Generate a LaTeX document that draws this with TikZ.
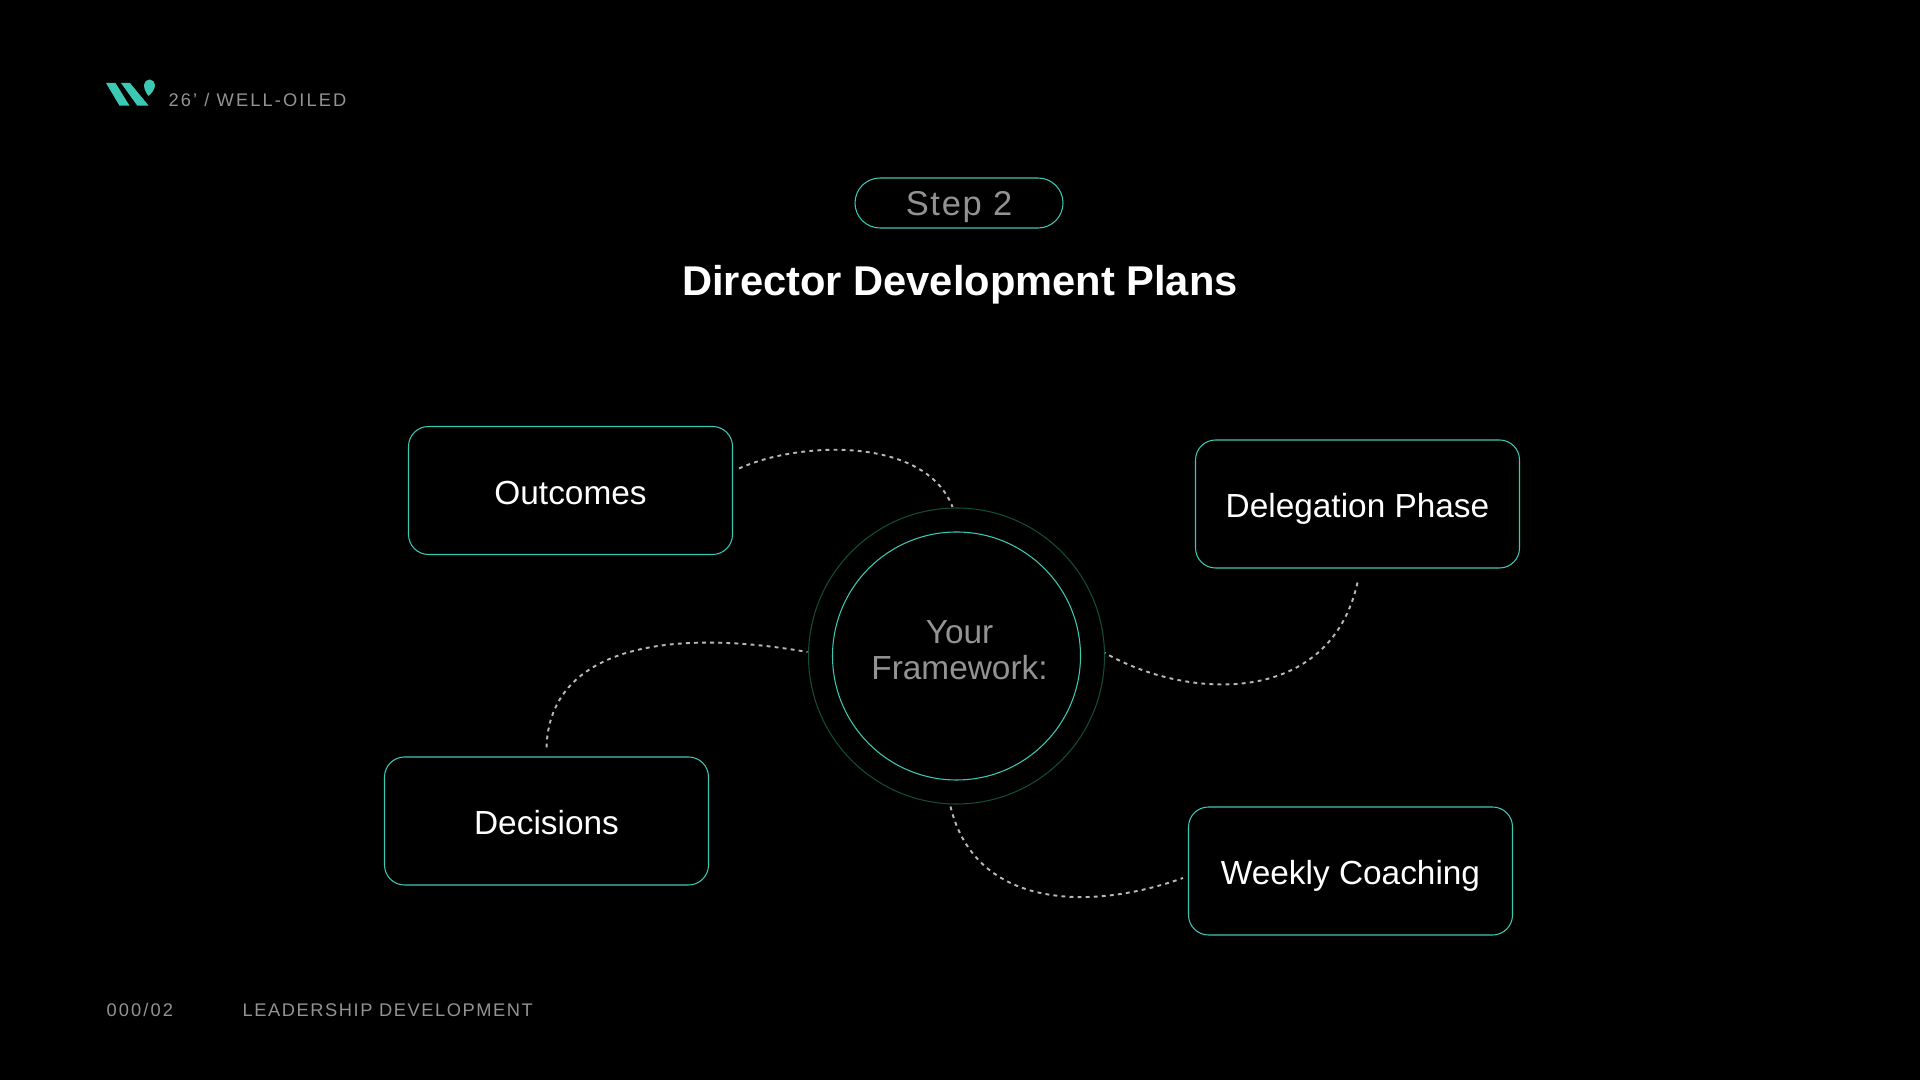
\documentclass[tikz,border=0pt]{standalone}
\usepackage{fontspec}
\setmainfont{Liberation Sans}
\newfontfamily\fejbetu[LetterSpace=11.5]{Liberation Sans}
\newfontfamily\labbetu[LetterSpace=8.5]{Liberation Sans}
\newfontfamily\lepesbetu[LetterSpace=5]{Liberation Sans}
\usetikzlibrary{positioning,calc}
\definecolor{menta}{HTML}{3CC9B4}
\definecolor{mentasotet}{HTML}{124B40}
\definecolor{szurke}{HTML}{939393}
\tikzset{
  doboz/.style={draw=menta,line width=0.3pt,rounded corners=0.2cm,minimum width=3.24cm,
    minimum height=1.28cm,text height=7.7pt,text depth=0pt,text=white,font=\fontsize{9.5}{11}\selectfont},
  kor/.style={circle,inner sep=0pt},
  felirat/.style={text=szurke,inner sep=0pt,font=\fontsize{5.2}{6}\labbetu},
  kapocs/.style={draw=white!72!black,line width=0.55pt,dash pattern=on 1.1pt off 1.2pt},
}
\begin{document}
\begin{tikzpicture}
  \useasboundingbox (0,0) rectangle (19.2,10.8);
  \fill[black] (0,0) rectangle (19.2,10.8);
  % logo
  \fill[menta] (1.06,9.97) -- (1.155,9.97) -- (1.295,9.743) -- (1.195,9.743) -- cycle;
  \fill[menta] (1.21,9.97) -- (1.30,9.97) -- (1.487,9.743) -- (1.373,9.743) -- cycle;
  \fill[menta] (1.44,9.95) arc[start angle=180,end angle=0,radius=0.055]
    .. controls (1.55,9.91) and (1.52,9.87) .. (1.485,9.84)
    .. controls (1.46,9.87) and (1.44,9.91) .. (1.44,9.95) -- cycle;
  \node[felirat,anchor=base west,font=\fontsize{5.2}{6}\fejbetu] (fejlec) at (1.68,9.73) {26’ / WELL-OILED};
  \node[felirat,anchor=base west,font=\fontsize{5.2}{6}\fejbetu] (oldal) at (1.06,0.63) {000/02};
  \node[felirat,anchor=base west] (lablec) at (2.42,0.63) {LEADERSHIP DEVELOPMENT};
  % cim
  \node[draw=menta,line width=0.3pt,rounded corners=0.25cm,minimum width=2.08cm,minimum height=0.5cm,
    inner sep=0pt,text height=7.4pt,text depth=0pt,text=szurke,font=\fontsize{9.8}{11}\lepesbetu] (lepes) at (9.59,8.77) {Step 2};
  \node[text=white,font=\fontsize{11.85}{13}\bfseries\selectfont] (cim) at (9.6,7.95) {Director Development Plans};
  % kozep
  \node[kor,draw=mentasotet,line width=0.3pt,minimum size=2.96cm] (kulso) at (9.565,4.24) {};
  \node[kor,draw=menta,line width=0.3pt,minimum size=2.48cm] (belso) at (9.565,4.24) {};
  \node[align=center,text=szurke,font=\fontsize{9.5}{10.2}\selectfont] (szoveg) at (9.595,4.30) {Your\\Framework:};
  % dobozok
  \node[doboz] (eredmeny) at (5.705,5.895) {Outcomes};
  \node[doboz] (delegalas) at (13.575,5.76) {Delegation Phase};
  \node[doboz] (dontes) at (5.465,2.59) {Decisions};
  \node[doboz] (coaching) at (13.505,2.09) {Weekly Coaching};
  % kapcsok
  \draw[kapocs] ([shift={(0.06,0.22)}]eredmeny.east) .. controls +(0.62,0.28) and +(-0.27,0.70) .. ([shift={(-0.04,0.005)}]kulso.north);
  \draw[kapocs] ([yshift=-0.14cm]delegalas.south) .. controls +(-0.28,-1.25) and +(0.82,-0.47) .. ([shift={(0.0,0.03)}]kulso.east);
  \draw[kapocs] ([yshift=0.09cm]dontes.north) .. controls +(0.03,0.98) and +(-1.44,0.25) .. ([shift={(-0.005,0.04)}]kulso.west);
  \draw[kapocs] ([shift={(-0.06,-0.02)}]kulso.south) .. controls +(0.25,-1.03) and +(-0.92,-0.33) .. ([xshift=-0.05cm,yshift=-0.07cm]coaching.west);
\end{tikzpicture}
\end{document}
